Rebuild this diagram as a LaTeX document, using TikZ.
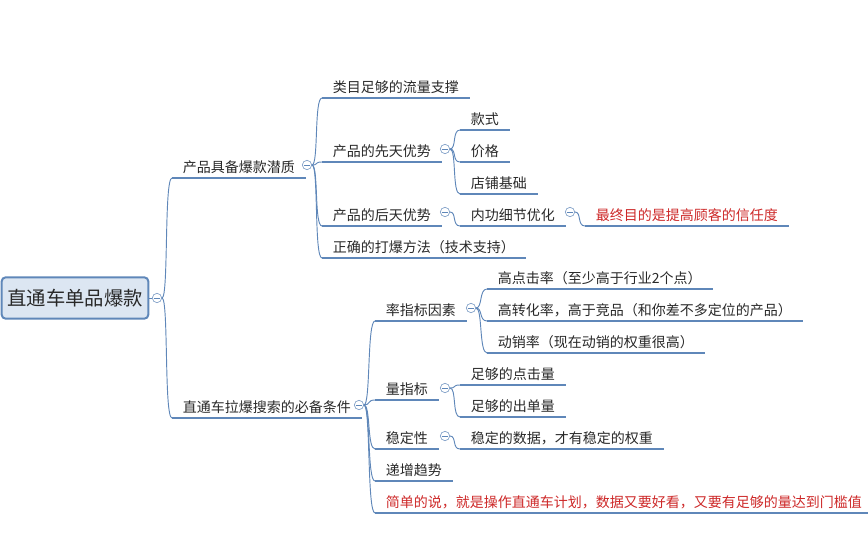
\documentclass[tikz,border=0pt]{standalone}
\usepackage{fontspec}
\setmainfont{Noto Sans CJK SC}
\usetikzlibrary{positioning}
\definecolor{lineblue}{RGB}{95,135,185}
\definecolor{rootfill}{RGB}{220,230,242}
\definecolor{txtgray}{RGB}{40,40,40}
\definecolor{alertred}{RGB}{205,40,40}

\begin{document}
\begin{tikzpicture}[x=0.75pt,y=-0.75pt,font=\fontsize{10.5}{12}\selectfont,text=txtgray]
	\tikzstyle{item}=[anchor=south west,inner xsep=8pt,inner ysep=3pt]
	\tikzstyle{alert}=[item,text=alertred];
	\tikzstyle{uline}=[draw=lineblue,line width=2.2pt];
	\tikzstyle{conn}=[draw=lineblue,line width=0.7pt];
	\tikzstyle{toggle}=[circle,draw=lineblue!80,fill=white,minimum size=7pt,inner sep=0pt,line width=0.5pt,
	path picture={\draw[lineblue] ([xshift=-2pt]path picture bounding box.center) -- ++(4pt,0);}];
\useasboundingbox (0,0) rectangle (868,540);
\node[draw=lineblue,line width=1.5pt,fill=rootfill,rounded corners=3pt,minimum width=110pt,minimum height=31pt,
	font=\fontsize{14.5}{16}\selectfont](root) at (75,298){直通车单品爆款};
\node[toggle](troot) at (157,298){};
\draw[conn] (root.east) -- (troot.west);

% level one
\node[item](pot) at (172,178){产品具备爆款潜质};
\node[item](cond) at (172,418){直通车拉爆搜索的必备条件};
\node[toggle](tpot) at (307,165){};
\node[toggle](tcond) at (359,405){};

% potential
\node[item](flow) at (322,98){类目足够的流量支撑};
\node[item](born) at (322,162){产品的先天优势};
\node[item](later) at (322,226){产品的后天优势};
\node[item](method) at (322,258){正确的打爆方法（技术支持）};
\node[toggle](tborn) at (445,149){};
\node[toggle](tlater) at (445,212){};

\node[item](style) at (460,130){款式};
\node[item](price) at (460,162){价格};
\node[item](shop) at (460,194){店铺基础};
\node[item](detail) at (460,226){内功细节优化};
\node[toggle](tdetail) at (570,212){};
\node[alert](trust) at (585,226){最终目的是提高顾客的信任度};

% conditions
\node[item](rate) at (375,321){率指标因素};
\node[item](amount) at (375,400){量指标};
\node[item](stable) at (375,449){稳定性};
\node[item](trend) at (375,481){递增趋势};
\node[alert](sum) at (375,513){简单的说，就是操作直通车计划，数据又要好看，又要有足够的量达到门槛值};
\node[toggle](trate) at (471,308){};
\node[toggle](tamount) at (445,388){};
\node[toggle](tstable) at (445,436){};

\node[item](click) at (487,289){高点击率（至少高于行业2个点）};
\node[item](conv) at (487,321){高转化率，高于竞品（和你差不多定位的产品）};
\node[item](sell) at (487,353){动销率（现在动销的权重很高）};
\node[item](clicks) at (460,385){足够的点击量};
\node[item](orders) at (460,417){足够的出单量};
\node[item](data) at (460,449){稳定的数据，才有稳定的权重};

% underlines
\foreach \n in {pot,cond,flow,born,later,method,style,price,shop,detail,trust,
	rate,amount,stable,trend,sum,click,conv,sell,clicks,orders,data}
	\draw[uline] (\n.south west) -- (\n.south east);

% connectors
\foreach \p/\c in {troot/pot,troot/cond,tpot/flow,tpot/born,tpot/later,tpot/method,
	tborn/style,tborn/price,tborn/shop,tlater/detail,tdetail/trust,
	tcond/rate,tcond/amount,tcond/stable,tcond/trend,tcond/sum,
	trate/click,trate/conv,trate/sell,tamount/clicks,tamount/orders,tstable/data}
	\draw[conn] (\p.east) .. controls ([xshift=5pt]\p.east) and ([xshift=-6pt]\c.south west) .. (\c.south west);
\end{tikzpicture}
\end{document}
